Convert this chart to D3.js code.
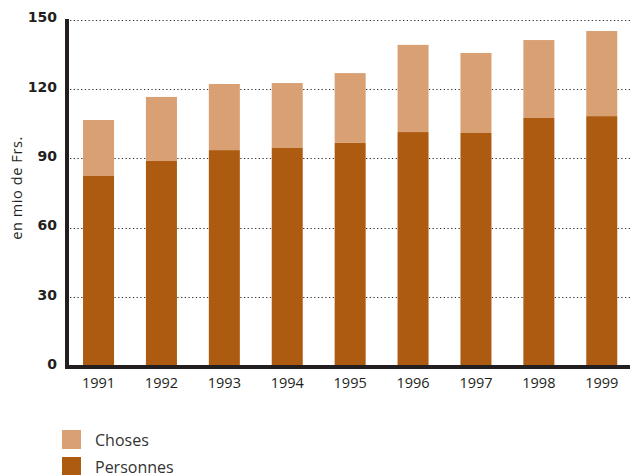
<!DOCTYPE html>
<html><head><meta charset="utf-8">
<script src="https://cdn.jsdelivr.net/npm/d3@7"></script>
<style>body{margin:0;background:#fff}svg{display:block}</style>
</head><body>
<svg id="c" width="630" height="475"></svg>
<script>
const years = ["1991","1992","1993","1994","1995","1996","1997","1998","1999"];
const personnes = [82.4, 88.9, 93.6, 94.5, 96.7, 101.4, 101.0, 107.5, 108.3];
const choses = [24.2, 27.7, 28.6, 28.1, 30.2, 37.7, 34.6, 33.7, 36.8];
const yTicks = [0, 30, 60, 90, 120, 150];
const seriesNames = ["Choses", "Personnes"];
const colors = {Choses: "#d8a073", Personnes: "#ad5b11"};

const svg = d3.select("#c");
const x = d3.scaleBand().domain(years).range([67.3, 633]).paddingInner(0.507).paddingOuter(0.25);
const y = d3.scaleLinear().domain([0, 150]).range([366.5, 19.7]);

// gridlines
svg.append("g").selectAll("line").data(yTicks.filter(d => d > 0)).join("line")
  .attr("x1", 70).attr("x2", 630)
  .attr("y1", d => Math.round(y(d)) + 0.5).attr("y2", d => Math.round(y(d)) + 0.5)
  .attr("stroke", "#333").attr("stroke-width", 1.2).attr("stroke-dasharray", "1.3,2.4");

const table = years.map((yr, i) => ({year: yr, Personnes: personnes[i], Choses: choses[i]}));
const stack = d3.stack().keys(["Personnes", "Choses"])(table);
svg.append("g").selectAll("g").data(stack).join("g")
  .attr("fill", d => colors[d.key])
  .selectAll("rect").data(d => d).join("rect")
  .attr("x", d => x(d.data.year)).attr("width", x.bandwidth())
  .attr("y", d => y(d[1])).attr("height", d => y(d[0]) - y(d[1]));

// y axis
const ya = svg.append("g").attr("transform", "translate(57,0)")
  .call(d3.axisLeft(y).tickValues(yTicks).tickSize(0).tickPadding(0));
ya.select(".domain").remove();
ya.selectAll("text").attr("font-family", "'DejaVu Sans', sans-serif").attr("font-weight", "bold")
  .attr("font-size", 14).attr("fill", "#231f20").attr("dy", "0.15em");

// x axis
const xa = svg.append("g").attr("transform", "translate(0,369)")
  .call(d3.axisBottom(x).tickSize(0).tickPadding(9));
xa.select(".domain").remove();
xa.selectAll("text").attr("font-family", "'Open Sans', sans-serif").attr("font-size", 14.5).attr("fill", "#231f20");

// axis lines
svg.append("line").attr("x1", 67).attr("x2", 67).attr("y1", 19).attr("y2", 369)
  .attr("stroke", "#231f20").attr("stroke-width", 4);
svg.append("line").attr("x1", 65).attr("x2", 630).attr("y1", 367).attr("y2", 367)
  .attr("stroke", "#231f20").attr("stroke-width", 4);

// y title
svg.append("text").attr("transform", "translate(22,188) rotate(-90)")
  .attr("text-anchor", "middle").attr("font-family", "'Open Sans', sans-serif")
  .attr("font-size", 14.5).attr("letter-spacing", 0.6).attr("fill", "#231f20").text("en mio de Frs.");

// legend
const lg = svg.append("g").selectAll("g").data(seriesNames).join("g")
  .attr("transform", (d, i) => `translate(62,${430 + i * 27})`);
lg.append("rect").attr("width", 19).attr("height", 19).attr("fill", d => colors[d]);
lg.append("text").attr("x", 33).attr("y", 15.5).attr("font-family", "'Open Sans', sans-serif")
  .attr("font-size", 16).attr("fill", "#333").text(d => d);
</script>
</body></html>
